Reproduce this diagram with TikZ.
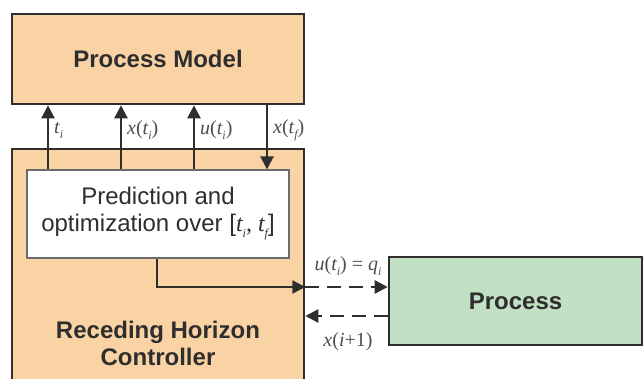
\documentclass[tikz,border=0pt]{standalone}
\usepackage{fontspec}
\setmainfont{Liberation Sans}
\newfontfamily\lblfont{Liberation Serif}
\usetikzlibrary{arrows.meta}
\definecolor{modelfill}{HTML}{FAD3A5}
\definecolor{procfill}{HTML}{C1E0C4}
\definecolor{edge}{HTML}{2E2E2E}
\newcommand\tsub[1]{\raisebox{-0.25em}{\fontsize{12}{12}\selectfont\itshape #1}}
\newcommand\mvar[1]{{\itshape #1}}
\begin{document}
\begin{tikzpicture}[x=1pt,y=-1pt,
  box/.style={draw=edge,line width=2.6pt,rectangle,inner sep=0pt},
  conn/.style={draw=edge,line width=2.4pt},
  tip/.style={-{Triangle[length=13pt,width=13pt]}},
  lbl/.style={font=\lblfont\fontsize{20}{20}\selectfont,inner sep=0pt,text=edge!85},
  title/.style={font=\bfseries\fontsize{24}{27}\selectfont,align=center,text=edge}]
\useasboundingbox (0,0) rectangle (644,378);
\clip (0,0) rectangle (644,378);

% blocks
\node[box,fill=modelfill,minimum width=292pt,minimum height=90pt] (pm) at (158,59) {};
\node[title] at (pm.center) {Process Model};
\node[box,fill=modelfill,minimum width=292pt,minimum height=251pt] (ctrl) at (158,274.5) {};
\node[box,fill=white,line width=1.2pt,draw=edge!70,minimum width=262pt,minimum height=88pt,
      font=\fontsize{24}{27}\selectfont,align=center,text=edge] (pred) at (158,214)
      {Prediction and\\optimization over [{\lblfont\mvar{t}\tsub{i}, \mvar{t}\tsub{f}}]};
\node[title] (rhc) at (158,343) {Receding Horizon\\Controller};
\node[box,fill=procfill,minimum width=253pt,minimum height=88pt] (proc) at (515.5,301) {};
\node[title] at (proc.center) {Process};

% signals between controller and model
\draw[conn,tip] (pred.north -| 48,0) -- (pm.south -| 48,0);
\draw[conn,tip] (pred.north -| 121,0) -- (pm.south -| 121,0);
\draw[conn,tip] (pred.north -| 194,0) -- (pm.south -| 194,0);
\draw[conn,tip] (pm.south -| 267,0) -- (pred.north -| 267,0);
\node[lbl,anchor=west] at (54,130) {\mvar{t}\tsub{i}};
\node[lbl,anchor=west] at (127,130) {\mvar{x}(\mvar{t}\tsub{i})};
\node[lbl,anchor=west] at (200,130) {\mvar{u}(\mvar{t}\tsub{i})};
\node[lbl,anchor=west] at (273,130) {\mvar{x}(\mvar{t}\tsub{f})};

% control output and feedback
\coordinate (out) at (ctrl.east |- 0,287);
\coordinate (back) at (ctrl.east |- 0,316);
\draw[conn,tip] (pred.south -| 157,0) |- (out);
\draw[conn,tip,dash pattern=on 14pt off 8pt] (out) -- (proc.west |- out);
\draw[conn,tip,dash pattern=on 14pt off 8pt] (proc.west |- back) -- (back);
\node[lbl] at (348,266) {\mvar{u}(\mvar{t}\tsub{i}) = \mvar{q}\tsub{i}};
\node[lbl] at (348,342) {\mvar{x}(\mvar{i}+1)};
\end{tikzpicture}
\end{document}
